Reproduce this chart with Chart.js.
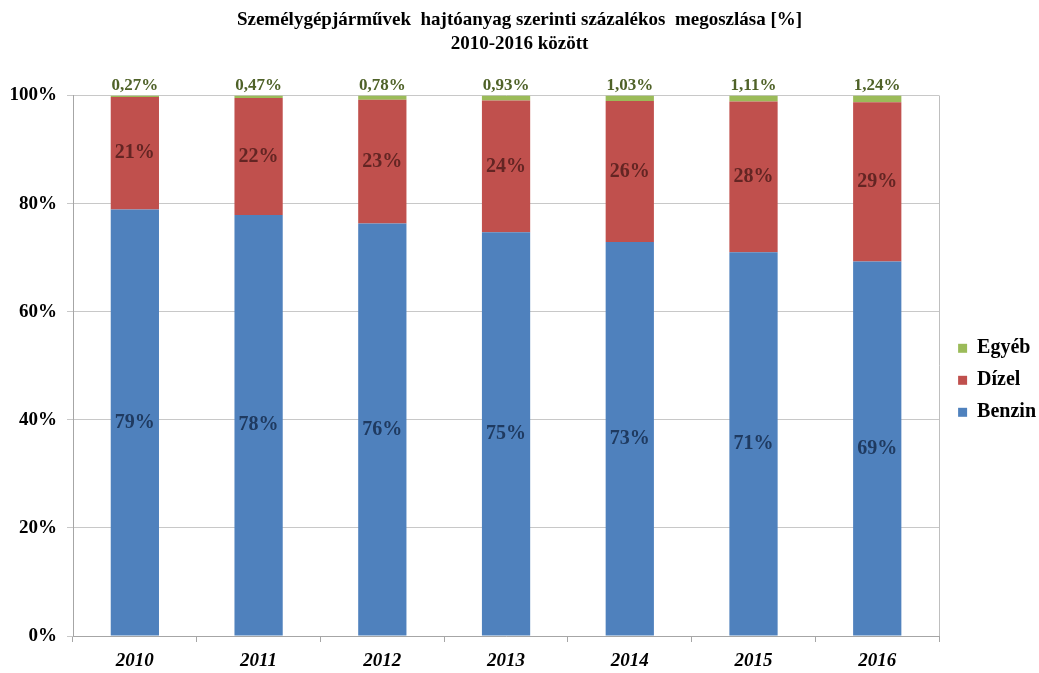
<!DOCTYPE html>
<html>
<head>
<meta charset="utf-8">
<script src="https://cdn.jsdelivr.net/npm/chart.js@4/dist/chart.umd.min.js"></script>
<style>
  html, body { margin: 0; padding: 0; background: #fff; }
  #wrap { width: 1039px; height: 673px; }
</style>
</head>
<body>
<div id="wrap"><canvas id="chart"></canvas></div>
<script>
// Adatok
const years = ['2010', '2011', '2012', '2013', '2014', '2015', '2016'];
const benzin = [78.9, 77.9, 76.3, 74.7, 72.9, 71.0, 69.3];
const dizel = [20.83, 21.63, 22.92, 24.37, 26.07, 27.89, 29.46];
const egyeb = [0.27, 0.47, 0.78, 0.93, 1.03, 1.11, 1.24];
const yTicks = [0, 20, 40, 60, 80, 100];

const serif = '"Liberation Serif", "Times New Roman", serif';

// Címkék a szegmensekre
const labelPlugin = {
    id: 'segmentLabels',
    afterLayout(chart) {
        // jelmagyarázat kicsit jobbra
        chart.legend.left += 7;
        chart.legend.right += 7;
    },
    afterDatasetsDraw(chart) {
        const ctx = chart.ctx;
        ctx.save();
        ctx.textAlign = 'center';
        ctx.textBaseline = 'middle';
        chart.data.datasets.forEach((ds, i) => {
            const meta = chart.getDatasetMeta(i);
            meta.data.forEach((bar, j) => {
                const v = ds.data[j];
                if (ds.label === 'Egyéb') {
                    ctx.font = 'bold 17px ' + serif;
                    ctx.fillStyle = '#4F6228';
                    ctx.fillText(v.toFixed(2).replace('.', ',') + '%', bar.x, bar.y - 10);
                } else {
                    ctx.font = 'bold 20px ' + serif;
                    ctx.fillStyle = ds.label === 'Benzin' ? '#1F3A60' : '#632523';
                    ctx.fillText(Math.round(v) + '%', bar.x, (bar.y + bar.base) / 2);
                }
            });
        });
        // jobb oldali keret
        const a = chart.chartArea;
        ctx.strokeStyle = '#bfbfbf';
        ctx.lineWidth = 1;
        ctx.beginPath();
        ctx.moveTo(Math.round(a.right) + 0.5, a.top);
        ctx.lineTo(Math.round(a.right) + 0.5, a.bottom);
        ctx.stroke();
        ctx.restore();
    }
};

new Chart(document.getElementById('chart'), {
    type: 'bar',
    data: {
        labels: years,
        datasets: [
            { label: 'Benzin', data: benzin, backgroundColor: '#4F81BD' },
            { label: 'Dízel', data: dizel, backgroundColor: '#C0504D' },
            { label: 'Egyéb', data: egyeb, backgroundColor: '#9BBB59' }
        ]
    },
    options: {
        responsive: true,
        maintainAspectRatio: false,
        animation: false,
        categoryPercentage: 1,
        barPercentage: 0.39,
        layout: { padding: { top: 4, right: 0, left: 0, bottom: 0 } },
        plugins: {
            tooltip: { enabled: false },
            title: {
                display: true,
                text: ['Személygépjárművek  hajtóanyag szerinti százalékos  megoszlása [%]', '2010-2016 között'],
                color: '#000',
                font: { family: serif, size: 19, weight: 'bold', lineHeight: 1.25 },
                padding: { top: 4, bottom: 40 }
            },
            legend: {
                position: 'right',
                reverse: true,
                title: { display: true, text: ' ', padding: { top: 31, bottom: 31 }, font: { size: 18 } },
                labels: {
                    color: '#000',
                    boxWidth: 9,
                    boxHeight: 9,
                    padding: 12,
                    font: { family: serif, size: 20, weight: 'bold' }
                }
            }
        },
        scales: {
            x: {
                stacked: true,
                grid: { drawOnChartArea: false, color: '#a6a6a6', tickLength: 6 },
                border: { color: '#a6a6a6' },
                ticks: {
                    color: '#000',
                    padding: 8,
                    font: { family: serif, size: 19, weight: 'bold', style: 'italic' }
                },
                afterFit(scale) { scale.height = 37; }
            },
            y: {
                stacked: true,
                min: 0,
                max: 100,
                afterBuildTicks(scale) { scale.ticks = yTicks.map(v => ({ value: v })); },
                grid: { color: '#c8c8c8', tickLength: 6 },
                border: { color: '#a6a6a6' },
                ticks: {
                    color: '#000',
                    padding: 10,
                    font: { family: serif, size: 19, weight: 'bold' },
                    callback: v => v + '%'
                },
                afterFit(scale) { scale.width = 73; }
            }
        }
    },
    plugins: [labelPlugin]
});
</script>
</body>
</html>
